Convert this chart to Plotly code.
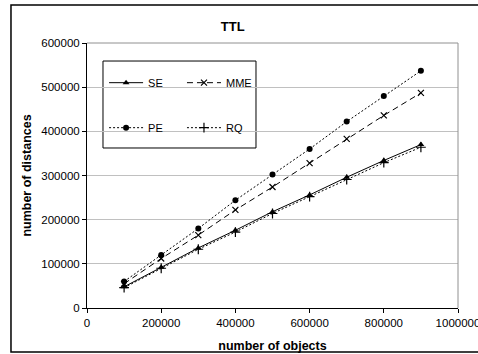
import plotly.graph_objects as go

x_objects = [100000, 200000, 300000, 400000, 500000, 600000, 700000, 800000, 900000]
se = [48000, 92000, 136000, 176000, 218000, 256000, 296000, 334000, 370000]
mme = [55000, 112000, 165000, 222000, 274000, 328000, 383000, 436000, 487000]
pe = [60000, 120000, 180000, 244000, 302000, 360000, 422000, 480000, 537000]
rq = [46000, 90000, 133000, 172000, 214000, 252000, 291000, 329000, 364000]

x_ticks = [0, 200000, 400000, 600000, 800000, 1000000]
y_ticks = [0, 100000, 200000, 300000, 400000, 500000, 600000]

FONT = "Liberation Sans, Arial, sans-serif"

fig = go.Figure()
fig.add_trace(go.Scatter(x=x_objects, y=se, name="SE", mode="lines+markers",
                         line=dict(color="black", width=1, dash="solid"),
                         marker=dict(symbol="triangle-up", size=6, color="black"),
                         legend="legend", legendgroup="a"))
fig.add_trace(go.Scatter(x=x_objects, y=pe, name="PE", mode="lines+markers",
                         line=dict(color="black", width=1, dash="2px,2px"),
                         marker=dict(symbol="circle", size=6, color="black"),
                         legend="legend", legendgroup="b"))
fig.add_trace(go.Scatter(x=x_objects, y=mme, name="MME", mode="lines+markers",
                         line=dict(color="black", width=1, dash="6px,4px"),
                         marker=dict(symbol="x-thin-open", size=6, color="black",
                                     line=dict(color="black", width=1.2)),
                         legend="legend2", legendgroup="c"))
fig.add_trace(go.Scatter(x=x_objects, y=rq, name="RQ", mode="lines+markers",
                         line=dict(color="black", width=1, dash="2px,2px"),
                         marker=dict(symbol="cross-thin-open", size=7, color="black",
                                     line=dict(color="black", width=1.2)),
                         legend="legend2", legendgroup="d"))

legend_common = dict(font=dict(family=FONT, size=11, color="black"),
                     bgcolor="rgba(0,0,0,0)", borderwidth=0,
                     itemwidth=34, tracegroupgap=26, traceorder="grouped",
                     xanchor="left", yanchor="top")

fig.update_layout(
    width=478, height=354,
    margin=dict(l=87, r=20, t=43, b=46, autoexpand=False),
    paper_bgcolor="white", plot_bgcolor="white",
    font=dict(family=FONT, size=11, color="black"),
    title=dict(text="<b>TTL</b>", x=0.487, xanchor="center", y=0.925, yanchor="middle",
               font=dict(family=FONT, size=13, color="black")),
    legend=dict(x=0.046, y=0.905, **legend_common),
    legend2=dict(x=0.256, y=0.905, **legend_common),
    xaxis=dict(range=[0, 1000000], tickvals=x_ticks, ticktext=[str(v) for v in x_ticks],
               showgrid=False, zeroline=False, showline=True, linecolor="black", linewidth=1,
               ticks="outside", ticklen=4, tickcolor="black", ticklabeloverflow="allow",
               automargin=False,
               tickfont=dict(family=FONT, size=11.5, color="black"),
               title=dict(text="<b>number of objects</b>", standoff=13,
                          font=dict(family=FONT, size=12.5, color="black")),
               mirror=False),
    yaxis=dict(range=[0, 600000], tickvals=y_ticks, ticktext=[str(v) for v in y_ticks],
               showgrid=True, gridcolor="#c0c0c0", gridwidth=1, zeroline=False,
               showline=True, linecolor="black", linewidth=1,
               ticks="outside", ticklen=4, tickcolor="black", automargin=False,
               tickfont=dict(family=FONT, size=11.5, color="black"),
               title=dict(text="<b>number of distances</b>", standoff=6,
                          font=dict(family=FONT, size=12.5, color="black"))),
    shapes=[
        dict(type="line", xref="paper", yref="paper", x0=0, x1=1, y0=1, y1=1,
             line=dict(color="#909090", width=1)),
        dict(type="line", xref="paper", yref="paper", x0=1, x1=1, y0=0, y1=1,
             line=dict(color="#909090", width=1)),
        dict(type="rect", xref="paper", yref="paper", x0=-0.2049, x1=1.1,
             y0=-0.166, y1=1.1434, line=dict(color="black", width=1.5), layer="below"),
        dict(type="rect", xref="paper", yref="paper", x0=0.0431, x1=0.4555,
             y0=0.6038, y1=0.932, line=dict(color="black", width=1),
             fillcolor="white", layer="below"),
    ],
)

fig.write_html("out.html")
